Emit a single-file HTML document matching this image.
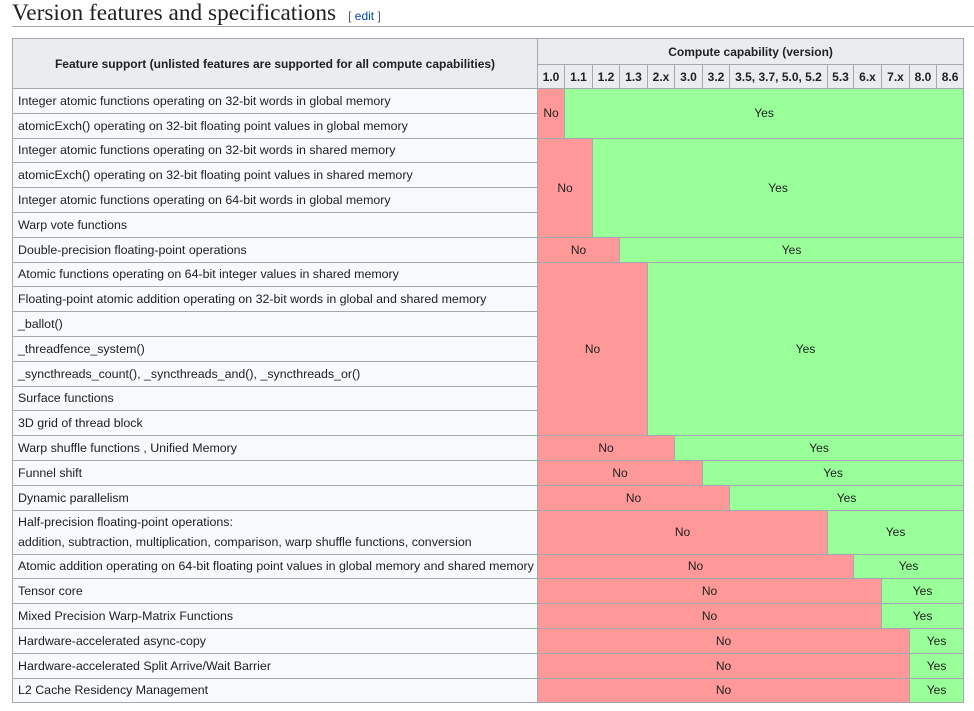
<!DOCTYPE html>
<html><head><meta charset="utf-8">
<style>
body{margin:0;background:#fff;width:974px;height:711px;overflow:hidden;font-family:"Liberation Sans",Arial,sans-serif;color:#202122}
h2{position:absolute;left:12px;top:0;margin:0;font-family:"Liberation Serif",serif;font-weight:normal;font-size:23.3px;line-height:26px;width:962px;border-bottom:1px solid #a2a9b1;height:26px;white-space:nowrap}
h2 .ed{font-family:"Liberation Sans",sans-serif;font-size:12px;color:#54595d;margin-left:12px}
h2 .ed a{color:#0645ad;text-decoration:none}
table{position:absolute;left:12px;top:38px;border-collapse:collapse;table-layout:fixed;width:952px;font-size:12px;background:#f8f9fa}
td,th{border:1px solid #a2a9b1;padding:0 5px;overflow:hidden;white-space:nowrap}
th{background:#eaecf0;font-weight:bold;text-align:center;padding:0}
td.f{text-align:left;font-size:12.4px}
td.n{background:#f99;text-align:center;padding:0}
td.y{background:#9f9;text-align:center;padding:0}
tr.r{height:24.8px}
</style></head><body>
<h2>Version features and specifications<span class="ed">[ <a href="#">edit</a> ]</span></h2>
<table>
<colgroup><col style="width:525px"><col style="width:27px"><col style="width:28px"><col style="width:27px"><col style="width:28px"><col style="width:27px"><col style="width:28px"><col style="width:27px"><col style="width:98px"><col style="width:26px"><col style="width:28px"><col style="width:28px"><col style="width:27px"><col style="width:27px"></colgroup>
<tr style="height:26px"><th rowspan="2">Feature support (unlisted features are supported for all compute capabilities)</th><th colspan="13">Compute capability (version)</th></tr>
<tr style="height:24px"><th>1.0</th><th>1.1</th><th>1.2</th><th>1.3</th><th>2.x</th><th>3.0</th><th>3.2</th><th>3.5, 3.7, 5.0, 5.2</th><th>5.3</th><th>6.x</th><th>7.x</th><th>8.0</th><th>8.6</th></tr>
<tr class="r"><td class="f">Integer atomic functions operating on 32-bit words in global memory</td><td class="n" rowspan="2" colspan="1">No</td><td class="y" rowspan="2" colspan="12">Yes</td></tr>
<tr class="r"><td class="f">atomicExch() operating on 32-bit floating point values in global memory</td></tr>
<tr class="r"><td class="f">Integer atomic functions operating on 32-bit words in shared memory</td><td class="n" rowspan="4" colspan="2">No</td><td class="y" rowspan="4" colspan="11">Yes</td></tr>
<tr class="r"><td class="f">atomicExch() operating on 32-bit floating point values in shared memory</td></tr>
<tr class="r"><td class="f">Integer atomic functions operating on 64-bit words in global memory</td></tr>
<tr class="r"><td class="f">Warp vote functions</td></tr>
<tr class="r"><td class="f">Double-precision floating-point operations</td><td class="n" colspan="3">No</td><td class="y" colspan="10">Yes</td></tr>
<tr class="r"><td class="f">Atomic functions operating on 64-bit integer values in shared memory</td><td class="n" rowspan="7" colspan="4">No</td><td class="y" rowspan="7" colspan="9">Yes</td></tr>
<tr class="r"><td class="f">Floating-point atomic addition operating on 32-bit words in global and shared memory</td></tr>
<tr class="r"><td class="f">_ballot()</td></tr>
<tr class="r"><td class="f">_threadfence_system()</td></tr>
<tr class="r"><td class="f">_syncthreads_count(), _syncthreads_and(), _syncthreads_or()</td></tr>
<tr class="r"><td class="f">Surface functions</td></tr>
<tr class="r"><td class="f">3D grid of thread block</td></tr>
<tr class="r"><td class="f">Warp shuffle functions , Unified Memory</td><td class="n" colspan="5">No</td><td class="y" colspan="8">Yes</td></tr>
<tr class="r"><td class="f">Funnel shift</td><td class="n" colspan="6">No</td><td class="y" colspan="7">Yes</td></tr>
<tr class="r"><td class="f">Dynamic parallelism</td><td class="n" colspan="7">No</td><td class="y" colspan="6">Yes</td></tr>
<tr style="height:44px"><td class="f" style="line-height:20px">Half-precision floating-point operations:<br>addition, subtraction, multiplication, comparison, warp shuffle functions, conversion</td><td class="n" colspan="8">No</td><td class="y" colspan="5">Yes</td></tr>
<tr class="r"><td class="f">Atomic addition operating on 64-bit floating point values in global memory and shared memory</td><td class="n" colspan="9">No</td><td class="y" colspan="4">Yes</td></tr>
<tr class="r"><td class="f">Tensor core</td><td class="n" colspan="10">No</td><td class="y" colspan="3">Yes</td></tr>
<tr class="r"><td class="f">Mixed Precision Warp-Matrix Functions</td><td class="n" colspan="10">No</td><td class="y" colspan="3">Yes</td></tr>
<tr class="r"><td class="f">Hardware-accelerated async-copy</td><td class="n" colspan="11">No</td><td class="y" colspan="2">Yes</td></tr>
<tr class="r"><td class="f">Hardware-accelerated Split Arrive/Wait Barrier</td><td class="n" colspan="11">No</td><td class="y" colspan="2">Yes</td></tr>
<tr class="r"><td class="f">L2 Cache Residency Management</td><td class="n" colspan="11">No</td><td class="y" colspan="2">Yes</td></tr>
</table>
</body></html>
